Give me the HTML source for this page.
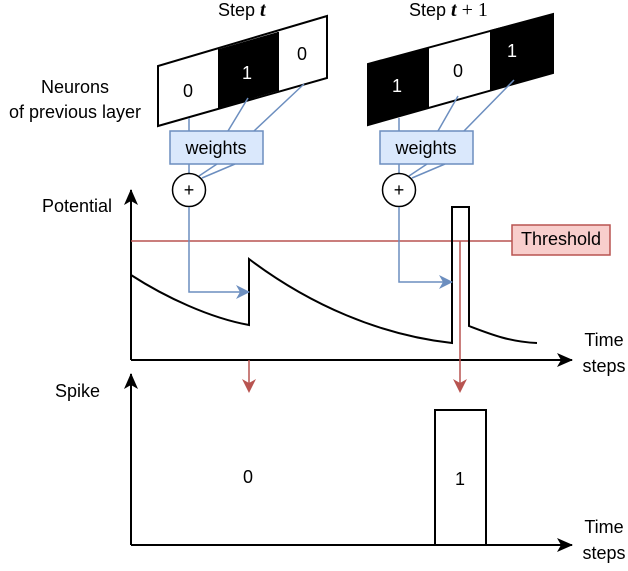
<!DOCTYPE html>
<html><head><style>body{margin:0;background:#fff}text{font-family:"Liberation Sans",sans-serif;font-size:18px;fill:#000}</style></head><body>
<svg width="628" height="566" xmlns="http://www.w3.org/2000/svg">
<defs>
<marker id="ab" markerWidth="14" markerHeight="14" refX="13" refY="7" orient="auto" markerUnits="userSpaceOnUse"><path d="M0,0 L14,7 L0,14 L4,7z" fill="#6c8ebf"/></marker>
<marker id="ar" markerWidth="14" markerHeight="14" refX="12" refY="7" orient="auto" markerUnits="userSpaceOnUse"><path d="M0,0 L14,7 L0,14 L4,7z" fill="#b85450"/></marker>
<marker id="ak" markerWidth="16" markerHeight="14" refX="15" refY="7" orient="auto" markerUnits="userSpaceOnUse"><path d="M0,0 L16,7 L0,14 L4,7z" fill="#000"/></marker>
</defs>
<text x="218" y="16">Step <tspan font-family="Liberation Serif" font-style="italic" font-weight="bold" font-size="20">t</tspan></text>
<text x="409" y="16">Step <tspan font-family="Liberation Serif" font-style="italic" font-weight="bold" font-size="20">t</tspan><tspan font-family="Liberation Serif" font-size="20"> + 1</tspan></text>
<text x="75" y="93" text-anchor="middle">Neurons</text>
<text x="75" y="118" text-anchor="middle">of previous layer</text>
<polygon points="219,108 278,91 278,32 219,49" fill="#000"/>
<polygon points="158,126 327,78 327,16 158,66" fill="none" stroke="#000" stroke-width="2"/>
<line x1="219" y1="49" x2="219" y2="108" stroke="#000" stroke-width="2"/>
<line x1="278" y1="32" x2="278" y2="91" stroke="#000" stroke-width="2"/>
<text x="188" y="97" text-anchor="middle">0</text>
<text x="247" y="79" text-anchor="middle" style="fill:#fff">1</text>
<text x="302" y="60" text-anchor="middle">0</text>
<polygon points="368,125 429,108 429,47 368,64" fill="#000"/>
<polygon points="490,91 553,73 553,14 490,30" fill="#000"/>
<polygon points="368,125 553,73 553,14 368,64" fill="none" stroke="#000" stroke-width="2"/>
<text x="397" y="92" text-anchor="middle" style="fill:#fff">1</text>
<text x="458" y="77" text-anchor="middle">0</text>
<text x="512" y="57" text-anchor="middle" style="fill:#fff">1</text>
<g stroke="#6c8ebf" stroke-width="1.5" fill="none">
<line x1="189" y1="118" x2="189" y2="131"/><line x1="248" y1="98" x2="228" y2="131"/><line x1="304" y1="84" x2="254" y2="131"/>
<line x1="189" y1="164" x2="189" y2="174"/><line x1="217" y1="164" x2="199" y2="176"/><line x1="235" y1="164" x2="202" y2="178"/>
<line x1="399" y1="118" x2="399" y2="131"/><line x1="458" y1="96" x2="438" y2="131"/><line x1="514" y1="80" x2="464" y2="131"/>
<line x1="399" y1="164" x2="399" y2="174"/><line x1="427" y1="164" x2="409" y2="176"/><line x1="445" y1="164" x2="412" y2="178"/>
</g>
<rect x="170" y="131" width="93" height="33" fill="#dae8fc" stroke="#6c8ebf" stroke-width="1.5"/>
<text x="216" y="154" text-anchor="middle">weights</text>
<rect x="380" y="131" width="93" height="33" fill="#dae8fc" stroke="#6c8ebf" stroke-width="1.5"/>
<text x="426" y="154" text-anchor="middle">weights</text>
<circle cx="189" cy="190" r="16.5" fill="#fff" stroke="#000" stroke-width="1.5"/>
<text x="189" y="196" text-anchor="middle" font-size="17">+</text>
<circle cx="399" cy="190" r="16.5" fill="#fff" stroke="#000" stroke-width="1.5"/>
<text x="399" y="196" text-anchor="middle" font-size="17">+</text>
<text x="42" y="212">Potential</text>
<line x1="131" y1="360" x2="131" y2="190" stroke="#000" stroke-width="2" marker-end="url(#ak)"/>
<line x1="131" y1="360" x2="572" y2="360" stroke="#000" stroke-width="2" marker-end="url(#ak)"/>
<line x1="131" y1="241" x2="512" y2="241" stroke="#b85450" stroke-width="1.5"/>
<rect x="512" y="225" width="98" height="30" fill="#f8cecc" stroke="#b85450" stroke-width="1.5"/>
<text x="561" y="245" text-anchor="middle">Threshold</text>
<path d="M131,275 C165,297 210,318 249,325 L249,259 C310,305 380,335 452,343 L452,207 L469,207 L469,326 C490,334 510,342 537,343" fill="none" stroke="#000" stroke-width="2"/>
<polyline points="189,207 189,292 249,292" fill="none" stroke="#6c8ebf" stroke-width="1.5" marker-end="url(#ab)"/>
<polyline points="399,207 399,282 452,282" fill="none" stroke="#6c8ebf" stroke-width="1.5" marker-end="url(#ab)"/>
<line x1="249" y1="360" x2="249" y2="391" stroke="#b85450" stroke-width="1.5" marker-end="url(#ar)"/>
<line x1="460" y1="241" x2="460" y2="391" stroke="#b85450" stroke-width="1.5" marker-end="url(#ar)"/>
<text x="604" y="346" text-anchor="middle">Time</text>
<text x="604" y="372" text-anchor="middle">steps</text>
<text x="55" y="397">Spike</text>
<line x1="131" y1="545" x2="131" y2="374" stroke="#000" stroke-width="2" marker-end="url(#ak)"/>
<line x1="131" y1="545" x2="572" y2="545" stroke="#000" stroke-width="2" marker-end="url(#ak)"/>
<rect x="435" y="410" width="51" height="135" fill="none" stroke="#000" stroke-width="2"/>
<text x="248" y="483" text-anchor="middle">0</text>
<text x="460" y="485" text-anchor="middle">1</text>
<text x="604" y="533" text-anchor="middle">Time</text>
<text x="604" y="559" text-anchor="middle">steps</text>
</svg>
</body></html>
